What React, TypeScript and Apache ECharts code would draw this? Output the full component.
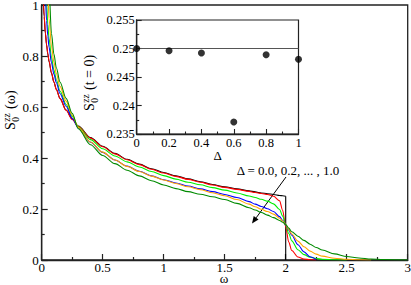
import React, { useEffect, useRef } from "react";
import * as echarts from "echarts";

// ---- data ----
const omega = [
  0.01, 0.02, 0.03, 0.04, 0.05, 0.06, 0.08, 0.1, 0.12, 0.15, 0.2, 0.25, 0.3, 0.4, 0.5, 0.6,
  0.7, 0.8, 0.9, 1.0, 1.1, 1.2, 1.3, 1.4, 1.5, 1.6, 1.7, 1.75, 1.8, 1.85, 1.9, 1.95, 1.975,
  2.0, 2.025, 2.05, 2.1, 2.15, 2.2, 2.25, 2.3, 2.4, 2.5, 2.6, 2.7, 2.8, 3.0,
];

const sDelta00 = [
  1.064, 0.954, 0.889, 0.843, 0.808, 0.779, 0.733, 0.698, 0.669, 0.634, 0.588, 0.553, 0.525,
  0.48, 0.446, 0.418, 0.395, 0.376, 0.358, 0.343, 0.33, 0.318, 0.307, 0.296, 0.287, 0.279,
  0.271, 0.267, 0.263, 0.26, 0.257, 0.253, 0.252, 0.25,
  null, null, null, null, null, null, null, null, null, null, null, null, null,
];
const sDelta00Edge = [
  [2.0, 0.25],
  [2.0, 0.0],
];

const sDelta02 = [
  1.07, 0.958, 0.892, 0.845, 0.81, 0.78, 0.734, 0.698, 0.668, 0.633, 0.587, 0.551, 0.523,
  0.478, 0.444, 0.416, 0.393, 0.374, 0.356, 0.341, 0.328, 0.316, 0.305, 0.294, 0.285, 0.277,
  0.269, 0.265, 0.261, 0.257, 0.25, 0.232, 0.195, 0.13, 0.07, 0.037, 0.012, 0.004, 0.001, 0,
  null, null, null, null, null, null, null,
];

const sDelta04 = [
  1.5, 1.4, 1.21, 1.01, 0.925, 0.869, 0.796, 0.745, 0.707, 0.663, 0.61, 0.563, 0.522, 0.472,
  0.436, 0.408, 0.385, 0.365, 0.347, 0.331, 0.317, 0.305, 0.295, 0.284, 0.274, 0.263, 0.251,
  0.245, 0.238, 0.231, 0.22, 0.198, 0.172, 0.137, 0.104, 0.075, 0.04, 0.021, 0.011, 0.006,
  0.003, 0.001, 0, null, null, null, null,
];

const sDelta06 = [
  1.45, 1.32, 1.036, 0.938, 0.879, 0.835, 0.774, 0.729, 0.695, 0.653, 0.603, 0.556, 0.518,
  0.462, 0.422, 0.392, 0.368, 0.348, 0.33, 0.315, 0.302, 0.29, 0.279, 0.268, 0.257, 0.245,
  0.229, 0.219, 0.21, 0.201, 0.19, 0.17, 0.156, 0.137, 0.117, 0.097, 0.06, 0.032, 0.013,
  0.002, null, null, null, null, null, null, null,
];

const sDelta08 = [
  1.9, 1.75, 1.6, 1.43, 1.049, 0.946, 0.839, 0.776, 0.731, 0.681, 0.623, 0.568, 0.52, 0.463,
  0.423, 0.392, 0.367, 0.347, 0.329, 0.314, 0.3, 0.287, 0.276, 0.264, 0.252, 0.237, 0.219,
  0.209, 0.199, 0.19, 0.18, 0.164, 0.153, 0.139, 0.12, 0.102, 0.074, 0.052, 0.035, 0.023,
  0.015, 0.007, 0.003, 0.001, 0, null, null,
];

const sDelta10 = [
  2.0, 1.8, 1.6, 1.45, 1.3, 1.064, 0.889, 0.808, 0.754, 0.698, 0.634, 0.575, 0.515, 0.452,
  0.41, 0.378, 0.352, 0.33, 0.311, 0.294, 0.28, 0.268, 0.258, 0.248, 0.237, 0.222, 0.205,
  0.196, 0.186, 0.176, 0.166, 0.155, 0.148, 0.139, 0.125, 0.111, 0.093, 0.077, 0.062, 0.049,
  0.039, 0.024, 0.014, 0.008, 0.004, 0.002, 0,
];

const curveNames = ["Δ=0.0", "Δ=0.2", "Δ=0.4", "Δ=0.6", "Δ=0.8", "Δ=1.0"];
const curveValues = [sDelta00, sDelta02, sDelta04, sDelta06, sDelta08, sDelta10];
const curveColors = ["#000000", "#ff0000", "#00ee00", "#0000ff", "#ffa500", "#008b00"];

// inset: sum rule S_0^zz(t=0) versus Δ
const insetDelta = [0, 0.2, 0.4, 0.6, 0.8, 1.0];
const insetSum = [0.25, 0.2496, 0.2492, 0.2371, 0.2489, 0.2481];
const insetExact = 0.25;

const FONT = "Liberation Serif, Times New Roman, Times, serif";

function pairs(xs: number[], ys: (number | null)[]) {
  const out: number[][] = [];
  xs.forEach((x, i) => {
    const y = ys[i];
    if (y !== null && y !== undefined) out.push([x, y]);
  });
  return out;
}

function txt(x: number, y: number, text: string, size: number, align = "left") {
  return {
    type: "text",
    x,
    y,
    silent: true,
    style: {
      text,
      fontFamily: FONT,
      fontSize: size,
      fill: "#000",
      textAlign: align,
      textVerticalAlign: "middle",
      verticalAlign: "middle",
    },
  };
}

export default function App() {
  const ref = useRef<HTMLDivElement>(null);

  useEffect(() => {
    if (!ref.current) return;
    const chart = echarts.init(ref.current, undefined, { renderer: "svg" });

    const axisCommon = (fontSize: number) => ({
      axisLine: { show: true, onZero: false, lineStyle: { color: "#222", width: 1.3 } },
      axisTick: { show: true, inside: true, length: 6, lineStyle: { color: "#222", width: 1.2 } },
      minorTick: { show: true, splitNumber: 2, length: 3, lineStyle: { color: "#222", width: 1.2 } },
      splitLine: { show: false },
      minorSplitLine: { show: false },
      axisLabel: { color: "#000", fontFamily: FONT, fontSize, margin: 3, lineHeight: 11 },
    });

    const mainSeries: any[] = curveValues.map((vals, k) => ({
      name: curveNames[k],
      type: "line",
      xAxisIndex: 0,
      yAxisIndex: 0,
      data: pairs(omega, vals),
      showSymbol: false,
      symbol: "none",
      smooth: 0.3,
      smoothMonotone: "x",
      clip: true,
      lineStyle: { color: curveColors[k], width: 1.1 },
      emphasis: { disabled: true },
      z: 2 + k,
    }));
    mainSeries.push({
      name: "edge",
      type: "line",
      xAxisIndex: 0,
      yAxisIndex: 0,
      data: sDelta00Edge,
      showSymbol: false,
      symbol: "none",
      lineStyle: { color: curveColors[0], width: 1.1 },
      emphasis: { disabled: true },
      z: 2,
    });

    // arrow geometry for the annotation
    const ax1 = 286, ay1 = 177, ax2 = 252, ay2 = 223.5;
    const dx = ax2 - ax1, dy = ay2 - ay1;
    const len = Math.sqrt(dx * dx + dy * dy);
    const ux = dx / len, uy = dy / len;
    const px = -uy, py = ux;
    const bx = ax2 - ux * 7, by = ay2 - uy * 7;

    chart.setOption({
      animation: false,
      backgroundColor: "#fff",
      grid: [
        { left: 41.7, top: 5, width: 366, height: 255, outerBoundsMode: "none", containLabel: false, show: true, borderColor: "#222", borderWidth: 1.3, backgroundColor: "#fff" },
        { left: 136.7, top: 20, width: 161.8, height: 114, outerBoundsMode: "none", containLabel: false, show: true, borderColor: "#222", borderWidth: 1.2, backgroundColor: "#fff", z: 10 },
      ],
      xAxis: [
        {
          type: "value", gridIndex: 0, min: 0, max: 3, interval: 0.5,
          ...axisCommon(13),
          axisLabel: { color: "#000", fontFamily: FONT, fontSize: 13, margin: 2, lineHeight: 11 },
        },
        {
          type: "value", gridIndex: 1, min: 0, max: 1, interval: 0.2,
          z: 11,
          ...axisCommon(12.5),
          axisTick: { show: true, inside: true, length: 5, lineStyle: { color: "#222", width: 1.1 } },
          minorTick: { show: true, splitNumber: 2, length: 2.5, lineStyle: { color: "#222", width: 1.1 } },
        },
      ],
      yAxis: [
        {
          type: "value", gridIndex: 0, min: 0, max: 1, interval: 0.2,
          ...axisCommon(13),
        },
        {
          type: "value", gridIndex: 1, min: 0.235, max: 0.255, interval: 0.005,
          z: 11,
          ...axisCommon(12.5),
          axisLabel: { color: "#000", fontFamily: FONT, fontSize: 12.5, margin: 2, lineHeight: 11 },
          axisTick: { show: true, inside: true, length: 5, lineStyle: { color: "#222", width: 1.1 } },
          minorTick: { show: true, splitNumber: 2, length: 2.5, lineStyle: { color: "#222", width: 1.1 } },
        },
      ],
      series: [
        ...mainSeries,
        {
          name: "exact",
          type: "line",
          xAxisIndex: 1,
          yAxisIndex: 1,
          data: [
            [insetDelta[0], insetExact],
            [insetDelta[insetDelta.length - 1], insetExact],
          ],
          showSymbol: false,
          symbol: "none",
          lineStyle: { color: "#555", width: 1 },
          emphasis: { disabled: true },
          z: 12,
        },
        {
          name: "sum rule",
          type: "scatter",
          xAxisIndex: 1,
          yAxisIndex: 1,
          data: insetDelta.map((d, i) => [d, insetSum[i]]),
          symbol: "circle",
          symbolSize: 7,
          itemStyle: { color: "#000" },
          emphasis: { disabled: true },
          z: 13,
        },
      ],
      graphic: [
        {
          type: "group",
          x: 10.5,
          y: 130,
          rotation: Math.PI / 2,
          children: [
            txt(0, 0, "S", 14),
            txt(8.2, -3.5, "zz", 9.5),
            txt(8.2, 5, "0", 9.5),
            txt(21, 0, "(ω)", 14),
          ],
        },
        {
          type: "group",
          x: 89.5,
          y: 111,
          rotation: Math.PI / 2,
          children: [
            txt(0, 0, "S", 14),
            txt(8.2, -3.5, "zz", 9.5),
            txt(8.2, 5, "0", 9.5),
            txt(21, 0, "(t = 0)", 14),
          ],
        },
        txt(224, 278, "ω", 13, "center"),
        txt(217.6, 155, "Δ", 13, "center"),
        txt(288, 170, "Δ = 0.0, 0.2, ... , 1.0", 13, "center"),
        {
          type: "line",
          silent: true,
          shape: { x1: ax1, y1: ay1, x2: bx, y2: by },
          style: { stroke: "#000", lineWidth: 1 },
        },
        {
          type: "polygon",
          silent: true,
          shape: {
            points: [
              [ax2, ay2],
              [bx + px * 3, by + py * 3],
              [bx - px * 3, by - py * 3],
            ],
          },
          style: { fill: "#000" },
        },
      ],
    });

    return () => chart.dispose();
  }, []);

  return (
    <div
      ref={ref}
      style={{ position: "fixed", left: 0, top: 0, width: 411, height: 285, background: "#fff" }}
    />
  );
}
